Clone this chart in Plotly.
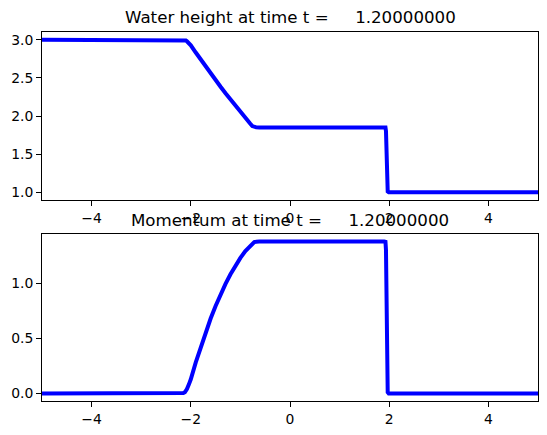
import plotly.graph_objects as go

# ---- data ----
x_pts = [-5.0, -2.20, -2.15, -2.12, -2.10, -2.078, -2.04, -2.0, -1.9, -1.8, -1.7, -1.6, -1.5, -1.4,
         -1.3, -1.2, -1.1, -1.0, -0.9, -0.8, -0.76, -0.72, -0.68, -0.62,
         1.90, 1.925, 1.935, 1.95, 1.96, 1.97, 1.99, 5.0]
height = [3.0, 3.0, 2.999, 2.996, 2.99, 2.978, 2.955, 2.925, 2.831, 2.738, 2.647, 2.557, 2.469, 2.383,
          2.298, 2.214, 2.132, 2.052, 1.973, 1.898, 1.868, 1.856, 1.851, 1.850,
          1.850, 1.848, 1.80, 1.40, 1.05, 1.01, 1.0, 1.0]
momentum = [0.0, 0.0, 0.003, 0.01, 0.02, 0.04, 0.08, 0.128, 0.281, 0.424, 0.557, 0.680, 0.794, 0.898,
            0.994, 1.081, 1.159, 1.230, 1.292, 1.344, 1.362, 1.373, 1.377, 1.378,
            1.378, 1.375, 1.30, 0.60, 0.08, 0.01, 0.0, 0.0]
x_ticks = [-4, -2, 0, 2, 4]
x_tick_labels = ["\u22124", "\u22122", "0", "2", "4"]
h_ticks = [1.0, 1.5, 2.0, 2.5, 3.0]
m_ticks = [0.0, 0.5, 1.0]
t_label = "1.20000000"

W, H = 547, 435
FONT = "DejaVu Sans"

def py(px):
    return 1 - px / H

fig = go.Figure()
fig.add_trace(go.Scatter(x=x_pts, y=height, mode="lines",
                         line=dict(color="#0000ff", width=4),
                         xaxis="x", yaxis="y", hoverinfo="skip", showlegend=False))
fig.add_trace(go.Scatter(x=x_pts, y=momentum, mode="lines",
                         line=dict(color="#0000ff", width=4),
                         xaxis="x2", yaxis="y2", hoverinfo="skip", showlegend=False))

axis_common = dict(showline=True, mirror=True, linecolor="black", linewidth=1,
                   ticks="outside", ticklen=5, tickwidth=1, tickcolor="black",
                   showgrid=False, zeroline=False,
                   tickfont=dict(family=FONT, size=13.9, color="black"))

xdom = [42 / W, 538 / W]
fig.update_layout(
    width=W, height=H,
    margin=dict(l=0, r=0, t=0, b=0),
    paper_bgcolor="white", plot_bgcolor="white",
    font=dict(family=FONT, color="black"),
    xaxis=dict(domain=xdom, range=[-5, 5], anchor="y",
               tickvals=x_ticks, ticktext=x_tick_labels, **axis_common),
    yaxis=dict(domain=[py(200), py(32)], range=[0.9, 3.1], anchor="x",
               tickvals=h_ticks, tickformat=".1f", **axis_common),
    xaxis2=dict(domain=xdom, range=[-5, 5], anchor="y2",
                tickvals=x_ticks, ticktext=x_tick_labels, **axis_common),
    yaxis2=dict(domain=[py(401), py(234)], range=[-0.0689, 1.4469], anchor="x2",
                tickvals=m_ticks, tickformat=".1f", **axis_common),
)

sp = "\u00a0" * 5
titles = [("Water height at time t =" + sp + t_label, 18),
          ("Momentum at time t =" + sp + t_label, 220)]
for txt, ypix in titles:
    fig.add_annotation(text=txt, x=290 / W, y=py(ypix), xref="paper", yref="paper",
                       xanchor="center", yanchor="middle", showarrow=False,
                       font=dict(family=FONT, size=16.67, color="black"))

fig.write_html("out.html", config={"displayModeBar": False},
               post_script="document.body.style.margin='0px';document.body.style.overflow='hidden';")
